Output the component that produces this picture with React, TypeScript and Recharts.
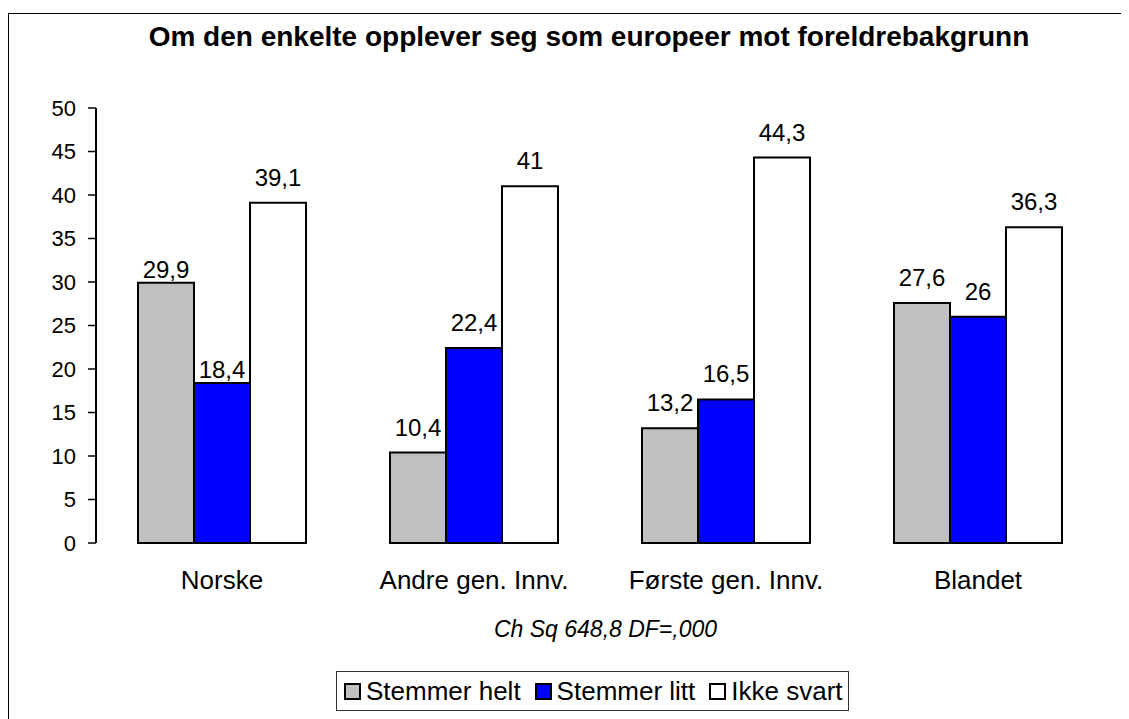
import React from 'react';
import { BarChart, Bar, XAxis, YAxis, LabelList } from 'recharts';

const categories = ['Norske', 'Andre gen. Innv.', 'Første gen. Innv.', 'Blandet'];
const stemmerHelt = [29.9, 10.4, 13.2, 27.6];
const stemmerLitt = [18.4, 22.4, 16.5, 26];
const ikkeSvart = [39.1, 41, 44.3, 36.3];
const yTicks = [0, 5, 10, 15, 20, 25, 30, 35, 40, 45, 50];
const edgeTicks = [0, 1, 2, 3, 4];

const seriesNames = ['Stemmer helt', 'Stemmer litt', 'Ikke svart'];
const seriesColors = ['#C0C0C0', '#0000FF', '#FFFFFF'];

// label gap above each bar (px), per series/category
const LABEL_GAP = 17;
const labelGapOverrides: Record<string, number> = { 'helt-0': 5, 'litt-0': 5 };

const data = categories.map((c, i) => ({
  cat: c,
  helt: stemmerHelt[i],
  litt: stemmerLitt[i],
  ikke: ikkeSvart[i],
}));

const FONT = '"Liberation Sans", Arial, sans-serif';
const fmt = (v: any) => String(v).replace('.', ',');

const makeLabel = (key: string) => (props: any) => {
  const { x, y, width, value, index } = props;
  const gap = labelGapOverrides[`${key}-${index}`] ?? LABEL_GAP;
  return (
    <text x={Number(x) + Number(width) / 2} y={Number(y) - gap} textAnchor="middle" fill="#000" fontSize={24} fontFamily={FONT}>
      {fmt(value)}
    </text>
  );
};

export default function App() {
  return (
    <div style={{ position: 'relative', width: 1121, height: 711, overflow: 'hidden', fontFamily: FONT, background: '#fff' }}>
      <div style={{ position: 'absolute', left: 0, top: 5, width: 1300, height: 900, border: '1px solid #000' }} />
      <div style={{ position: 'absolute', left: 0, top: 13, width: 1162, textAlign: 'center', fontWeight: 'bold', fontSize: 28, lineHeight: '32px', color: '#000', whiteSpace: 'nowrap' }}>
        Om den enkelte opplever seg som europeer mot foreldrebakgrunn
      </div>
      <div style={{ position: 'absolute', left: 0, top: 0 }}>
        <BarChart
          width={1121}
          height={711}
          data={data}
          margin={{ top: 100, right: 25, left: 0, bottom: 126 }}
          barCategoryGap={42}
          barGap={0}
        >
          <XAxis
            xAxisId="edge"
            type="number"
            domain={[0, 4]}
            ticks={edgeTicks}
            allowDataOverflow
            height={0}
            tick={false}
            tickSize={8}
            tickLine={{ stroke: '#000', strokeWidth: 1.5 }}
            axisLine={{ stroke: '#000', strokeWidth: 2 }}
          />
          <XAxis
            xAxisId="cat"
            dataKey="cat"
            height={50}
            axisLine={false}
            tickLine={false}
            tickSize={0}
            tickMargin={28}
            tick={{ fill: '#000', fontSize: 26, fontFamily: FONT }}
            interval={0}
          />
          <XAxis
            xAxisId="top"
            dataKey="cat"
            orientation="top"
            height={0}
            tick={false}
            tickLine={false}
            axisLine={{ stroke: '#808080', strokeWidth: 2 }}
          />
          <YAxis
            yAxisId="left"
            domain={[0, 50]}
            ticks={yTicks}
            width={88}
            tickSize={8}
            tickMargin={12}
            interval={0}
            tick={{ fill: '#000', fontSize: 22, fontFamily: FONT }}
            tickLine={{ stroke: '#000', strokeWidth: 1.5 }}
            axisLine={{ stroke: '#000', strokeWidth: 2 }}
          />
          <YAxis
            yAxisId="right"
            orientation="right"
            domain={[0, 50]}
            width={0}
            tick={false}
            tickLine={false}
            axisLine={{ stroke: '#808080', strokeWidth: 2 }}
          />
          <Bar xAxisId="cat" yAxisId="left" dataKey="helt" name={seriesNames[0]} fill={seriesColors[0]} stroke="#000" strokeWidth={2} isAnimationActive={false}>
            <LabelList dataKey="helt" content={makeLabel('helt')} />
          </Bar>
          <Bar xAxisId="cat" yAxisId="left" dataKey="litt" name={seriesNames[1]} fill={seriesColors[1]} stroke="#000" strokeWidth={2} isAnimationActive={false}>
            <LabelList dataKey="litt" content={makeLabel('litt')} />
          </Bar>
          <Bar xAxisId="cat" yAxisId="left" dataKey="ikke" name={seriesNames[2]} fill={seriesColors[2]} stroke="#000" strokeWidth={2} isAnimationActive={false}>
            <LabelList dataKey="ikke" content={makeLabel('ikke')} />
          </Bar>
        </BarChart>
      </div>
      <div style={{ position: 'absolute', left: 0, top: 609, width: 1195, textAlign: 'center', fontStyle: 'italic', fontSize: 23, lineHeight: '24px', color: '#000', whiteSpace: 'nowrap' }}>
        Ch Sq 648,8 DF=,000
      </div>
      <div style={{ position: 'absolute', left: 328, top: 663, height: 38, paddingLeft: 7, paddingRight: 5, border: '1px solid #333', display: 'flex', alignItems: 'center', fontSize: 26, color: '#000', boxSizing: 'content-box', whiteSpace: 'nowrap' }}>
        {seriesNames.map((n, i) => (
          <span key={n} style={{ display: 'flex', alignItems: 'center', marginRight: i < 2 ? 14 : 0 }}>
            <span style={{ display: 'inline-block', width: 13, height: 13, background: seriesColors[i], border: '2px solid #000', marginRight: 5 }} />
            {n}
          </span>
        ))}
      </div>
    </div>
  );
}
